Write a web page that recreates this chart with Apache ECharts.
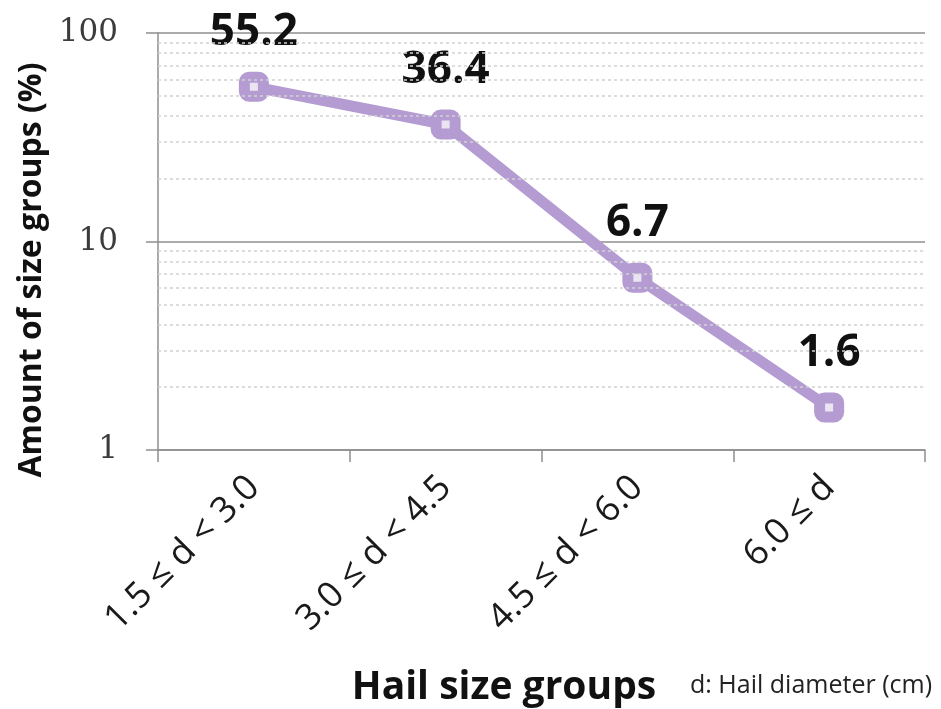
<!DOCTYPE html>
<html>
<head>
<meta charset="utf-8">
<script src="https://cdn.jsdelivr.net/npm/echarts@6/dist/echarts.min.js"></script>
<style>
  html, body { margin: 0; padding: 0; background: #ffffff; }
  #chart { width: 941px; height: 709px; }
</style>
</head>
<body>
<div id="chart"></div>
<script>
// Hail size distribution, share of each size group (log scale)
const categories = ['1.5 \u2264 d < 3.0', '3.0 \u2264 d < 4.5', '4.5 \u2264 d < 6.0', '6.0 \u2264 d'];
const amounts = [55.2, 36.4, 6.7, 1.6];
const yTickLabels = [1, 10, 100];
// dotted minor grid values inside each decade
const minorGridValues = [2, 3, 4, 5, 6, 7, 8, 9, 20, 30, 40, 50, 60, 70, 80, 90];

const axisGray = '#8f8f8f';
const lineColor = '#b49bd2';

const chart = echarts.init(document.getElementById('chart'), null, { renderer: 'canvas' });

chart.setOption({
  backgroundColor: '#ffffff',
  animation: false,
  grid: { left: 158, right: 16, top: 33, bottom: 259, containLabel: false },
  xAxis: {
    type: 'category',
    data: categories,
    boundaryGap: true,
    axisLine: { show: true, lineStyle: { color: axisGray, width: 1.5 } },
    axisTick: { show: true, length: 12, alignWithLabel: false, lineStyle: { color: axisGray, width: 1.5 } },
    axisLabel: {
      rotate: 45,
      margin: 32,
      interval: 0,
      fontFamily: 'Open Sans',
      fontSize: 36,
      color: '#1a1a1a'
    },
    splitLine: { show: false }
  },
  yAxis: {
    type: 'log',
    logBase: 10,
    min: 1,
    max: 100,
    axisLine: { show: true, lineStyle: { color: axisGray, width: 1.5 } },
    axisTick: { show: true, length: 12, lineStyle: { color: axisGray, width: 1.5 } },
    axisLabel: {
      margin: 40,
      fontFamily: 'DejaVu Serif',
      fontSize: 31,
      color: '#3c3c3c',
      formatter: function (v) {
        return yTickLabels.indexOf(Math.round(v)) >= 0 ? String(Math.round(v)) : '';
      }
    },
    splitLine: { show: true, lineStyle: { color: axisGray, width: 1.5 } },
    minorTick: { show: false },
    minorSplitLine: { show: false }
  },
  series: [
    {
      // carrier for the dotted minor grid lines
      type: 'line',
      data: amounts,
      z: 1,
      silent: true,
      symbol: 'none',
      lineStyle: { opacity: 0 },
      markLine: {
        silent: true,
        symbol: ['none', 'none'],
        label: { show: false },
        lineStyle: { type: [3, 3], color: '#d2d2d2', width: 1.5 },
        data: minorGridValues.map(v => ({ yAxis: v }))
      }
    },
    {
      type: 'line',
      data: amounts,
      z: 3,
      symbol: 'roundRect',
      symbolSize: 19,
      lineStyle: { color: lineColor, width: 11 },
      itemStyle: { color: '#ebe5f2', borderColor: lineColor, borderWidth: 11 },
      label: {
        show: true,
        position: 'inside',
        offset: [0, -54],
        fontFamily: 'Open Sans',
        fontWeight: 'bold',
        fontSize: 44,
        color: '#111111',
        formatter: p => String(p.value)
      }
    }
  ],
  graphic: [
    {
      type: 'text',
      x: 32,
      y: 270,
      rotation: Math.PI / 2,
      style: {
        text: 'Amount of size groups (%)',
        fontFamily: 'Open Sans',
        fontWeight: 'bold',
        fontSize: 32,
        fill: '#111111',
        align: 'center',
        verticalAlign: 'middle'
      }
    },
    {
      type: 'text',
      x: 504,
      y: 688,
      style: {
        text: 'Hail size groups',
        fontFamily: 'Open Sans',
        fontWeight: 'bold',
        fontSize: 39,
        fill: '#111111',
        align: 'center',
        verticalAlign: 'middle'
      }
    },
    {
      type: 'text',
      x: 811,
      y: 686,
      style: {
        text: 'd: Hail diameter (cm)',
        fontFamily: 'Open Sans',
        fontSize: 25,
        fill: '#222222',
        align: 'center',
        verticalAlign: 'middle'
      }
    }
  ]
});
</script>
</body>
</html>
